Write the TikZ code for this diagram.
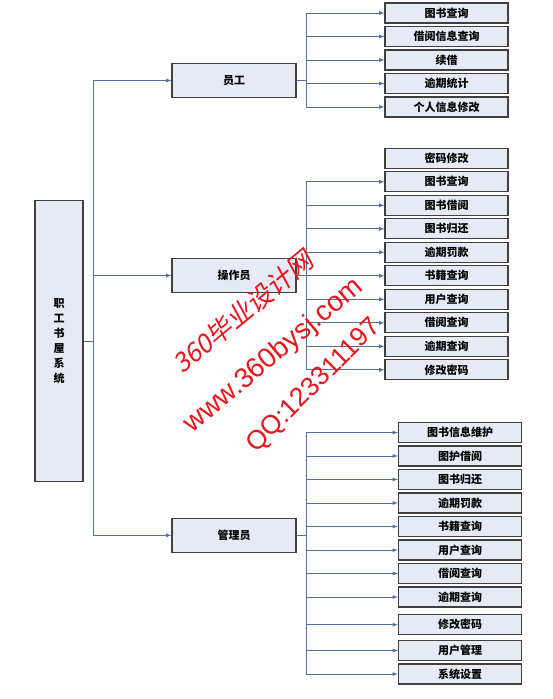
\documentclass[tikz,border=0pt]{standalone}
\usepackage{fontspec}
\usepackage{tikz}
\newfontfamily\cjk{Noto Sans CJK SC}
\newfontfamily\wmcjk{Noto Sans CJK SC}[FakeSlant=0.2]
\newfontfamily\wmfont{Liberation Sans}
\definecolor{boxfill}{RGB}{229,234,245}
\definecolor{boxline}{RGB}{64,64,64}
\definecolor{linkblue}{RGB}{84,112,160}
\definecolor{wmred}{RGB}{232,20,30}

\begin{document}
\begin{tikzpicture}[x=1pt, y=1pt, node distance={23.5pt}, >=latex,
	root/.style={draw=boxline, fill=boxfill, line width=1.2pt, minimum width=48pt, minimum height=281pt, inner sep=0pt, align=center, font=\cjk\bfseries\fontsize{11}{15.1}\selectfont},
	main/.style={draw=boxline, fill=boxfill, line width=1.2pt, minimum width=124pt, minimum height=34pt, inner sep=0pt, font=\cjk\bfseries\fontsize{11}{13}\selectfont},
	leaf/.style={draw=boxline, fill=boxfill, line width=1.2pt, minimum width=123pt, minimum height=20pt, inner sep=0pt, font=\cjk\bfseries\fontsize{11}{13}\selectfont},
	link/.style={draw=linkblue, line width=0.8pt},
	wmark/.style={text=wmred, inner sep=0pt}]
		\useasboundingbox (0,0) rectangle (552,-699);

		\node[root] (sys) at (59,-341) {职\\工\\书\\屋\\系\\统};
		\node[main] (emp) at (234,-80.5) {员工};
		\node[main] (op) at (234,-275.5) {操作员};
		\node[main] (adm) at (234,-535.3) {管理员};

		\node[leaf] (e1) at (446.5,-13) {图书查询};
		\node[leaf] (e2) [below of=e1] {借阅信息查询};
		\node[leaf] (e3) [below of=e2] {续借};
		\node[leaf] (e4) [below of=e3] {逾期统计};
		\node[leaf] (e5) [below of=e4] {个人信息修改};

		\node[leaf] (o1) at (446.5,-158.3) {密码修改};
		\node[leaf] (o2) [below of=o1] {图书查询};
		\node[leaf] (o3) [below of=o2] {图书借阅};
		\node[leaf] (o4) [below of=o3] {图书归还};
		\node[leaf] (o5) [below of=o4] {逾期罚款};
		\node[leaf] (o6) [below of=o5] {书籍查询};
		\node[leaf] (o7) [below of=o6] {用户查询};
		\node[leaf] (o8) [below of=o7] {借阅查询};
		\node[leaf] (o9) [below of=o8] {逾期查询};
		\node[leaf] (o10) [below of=o9] {修改密码};

		\node[leaf] (a1) at (460,-432.5) {图书信息维护};
		\node[leaf] (a2) [below of=a1] {图护借阅};
		\node[leaf] (a3) [below of=a2] {图书归还};
		\node[leaf] (a4) [below of=a3] {逾期罚款};
		\node[leaf] (a5) [below of=a4] {书籍查询};
		\node[leaf] (a6) [below of=a5] {用户查询};
		\node[leaf] (a7) [below of=a6] {借阅查询};
		\node[leaf] (a8) [below of=a7] {逾期查询};
		\node[leaf] (a9) [below of=a8, yshift=-4.2pt] {修改密码};
		\node[leaf] (a10) [below of=a9, yshift=-2.3pt] {用户管理};
		\node[leaf] (a11) [below of=a10] {系统设置};

		\draw[->, link] (sys.east) -- ++(10,0) |- (emp);
		\draw[->, link] (sys.east) -- ++(10,0) |- (op);
		\draw[->, link] (sys.east) -- ++(10,0) |- (adm);

		\draw[->, link] (emp.east) -- ++(10,0) |- (e1);
		\draw[->, link] (emp.east) -- ++(10,0) |- (e2);
		\draw[->, link] (emp.east) -- ++(10,0) |- (e3);
		\draw[->, link] (emp.east) -- ++(10,0) |- (e4);
		\draw[->, link] (emp.east) -- ++(10,0) |- (e5);

		\draw[->, link] (op.east) -- ++(10,0) |- (o2);
		\draw[->, link] (op.east) -- ++(10,0) |- (o3);
		\draw[->, link] (op.east) -- ++(10,0) |- (o4);
		\draw[->, link] (op.east) -- ++(10,0) |- (o5);
		\draw[->, link] (op.east) -- ++(10,0) |- (o6);
		\draw[->, link] (op.east) -- ++(10,0) |- (o7);
		\draw[->, link] (op.east) -- ++(10,0) |- (o8);
		\draw[->, link] (op.east) -- ++(10,0) |- (o9);
		\draw[->, link] (op.east) -- ++(10,0) |- (o10);

		\draw[->, link] (adm.east) -- ++(10,0) |- (a1);
		\draw[->, link] (adm.east) -- ++(10,0) |- (a2);
		\draw[->, link] (adm.east) -- ++(10,0) |- (a3);
		\draw[->, link] (adm.east) -- ++(10,0) |- (a4);
		\draw[->, link] (adm.east) -- ++(10,0) |- (a5);
		\draw[->, link] (adm.east) -- ++(10,0) |- (a6);
		\draw[->, link] (adm.east) -- ++(10,0) |- (a7);
		\draw[->, link] (adm.east) -- ++(10,0) |- (a8);
		\draw[->, link] (adm.east) -- ++(10,0) |- (a9);
		\draw[->, link] (adm.east) -- ++(10,0) |- (a10);
		\draw[->, link] (adm.east) -- ++(10,0) |- (a11);

		\node[wmark, rotate=39.6, font=\wmcjk\fontsize{26}{26}\selectfont] (wm1) at (243,-312) {360毕业设计网};
		\node[wmark, rotate=40, font=\wmfont\fontsize{28}{28}\selectfont] (wm2) at (274,-356) {www.360bysj.com};
		\node[wmark, rotate=45, font=\wmfont\fontsize{26.5}{26.5}\selectfont] (wm3) at (314,-386) {QQ:123311197};
	\end{tikzpicture}
\end{document}
